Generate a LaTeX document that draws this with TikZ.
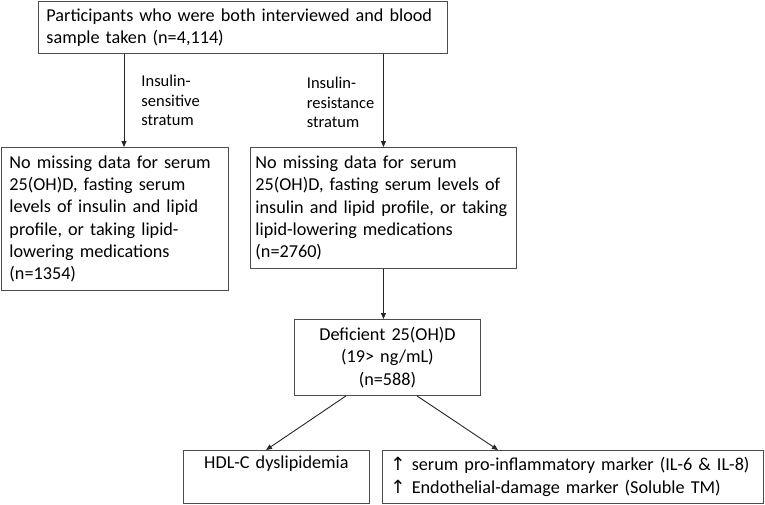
\documentclass[tikz,border=0pt]{standalone}
\usepackage{fontspec}
\setmainfont{Carlito}
\newfontfamily\arrowfont{DejaVu Sans}
\usetikzlibrary{arrows.meta}
\newcommand{\uparr}{{\arrowfont ↑}}

\tikzset{
  box/.style={draw=black!70, line width=0.9pt, inner xsep=8pt, inner ysep=0pt,
    anchor=north west, font=\fontsize{18.2}{22.3}\selectfont},
  flow/.style={draw=black!85, line width=0.9pt, -{Triangle[length=6pt,width=5pt]}},
  stratum/.style={inner sep=0pt, align=left, anchor=west,
    font=\fontsize{16.5}{19.5}\selectfont}
}

\begin{document}
\begin{tikzpicture}[x=1pt,y=-1pt]
\useasboundingbox (0,0) rectangle (765,504);
\node[box, minimum width=409pt, minimum height=52pt, text width=393pt, align=left] (top) at (38,1)
  {Participants who were both interviewed and blood\\sample taken (n=4,114)};
\node[box, minimum width=227pt, minimum height=143pt, text width=211pt, align=left] (sens) at (1,147)
  {No missing data for serum\\25(OH)D, fasting serum\\levels of insulin and lipid\\profile, or taking lipid-\\lowering medications\\(n=1354)};
\node[box, inner xsep=5pt, minimum width=266pt, minimum height=121pt, text width=256pt, align=left] (resist) at (250,147)
  {No missing data for serum\\25(OH)D, fasting serum levels of\\insulin and lipid profile, or taking\\lipid-lowering medications\\(n=2760)};
\node[box, minimum width=186pt, minimum height=76pt, text width=170pt, align=center] (defic) at (294,319)
  {Deficient 25(OH)D\\(19> ng/mL)\\(n=588)};
\node[box, minimum width=186pt, minimum height=53pt, text width=170pt, align=center] (hdl) at (183,450)
  {HDL-C dyslipidemia\\\strut};
\node[box, minimum width=381pt, minimum height=53pt, text width=365pt, align=left] (marker) at (382,450)
  {\uparr\ serum pro-inflammatory marker (IL-6 \& IL-8)\\\uparr\ Endothelial-damage marker (Soluble TM)};

\draw[flow] ([xshift=86pt]top.south west) -- ([xshift=86pt]top.south west |- sens.north)
  node[stratum, pos=0.5, xshift=17pt] (lsens) {Insulin-\\sensitive\\stratum};
\draw[flow] (top.south -| resist.north) -- (resist.north)
  node[stratum, pos=0.5, xshift=-77pt, yshift=-2pt] (lresist) {Insulin-\\resistance\\stratum};
\draw[flow] (resist.south) -- (resist.south |- defic.north);
\draw[flow] ([xshift=52pt]defic.south west) -- ([xshift=83pt]hdl.north west);
\draw[flow] ([xshift=123pt]defic.south west) -- ([xshift=116pt]marker.north west);
\end{tikzpicture}
\end{document}
